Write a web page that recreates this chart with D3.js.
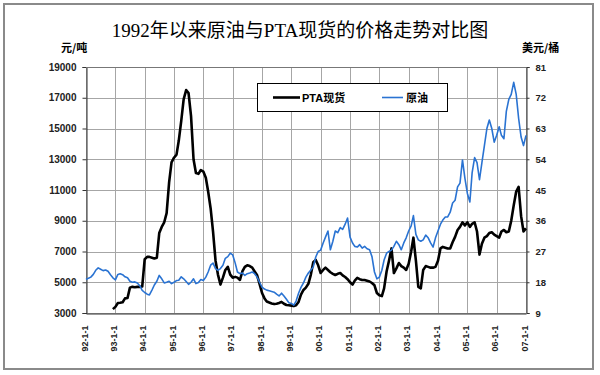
<!DOCTYPE html>
<html>
<head>
<meta charset="utf-8">
<script src="https://cdn.jsdelivr.net/npm/d3@7"></script>
<style>
  body { margin: 0; background: #fff; }
  svg { display: block; }
</style>
</head>
<body>
<script>
// tick labels
const xTickLabels = ["92-1-1", "93-1-1", "94-1-1", "95-1-1", "96-1-1", "97-1-1", "98-1-1", "99-1-1",
    "00-1-1", "01-1-1", "02-1-1", "03-1-1", "04-1-1", "05-1-1", "06-1-1", "07-1-1"];
const leftTicks = [3000, 5000, 7000, 9000, 11000, 13000, 15000, 17000, 19000];
const rightTicks = [9, 18, 27, 36, 45, 54, 63, 72, 81];

// PTA spot, yuan/ton, monthly from 1992-12
const ptaStart = [1992, 11];
const ptaValues = [
    3250,
    3400, 3650, 3670, 3700, 3950, 3980, 4650, 4700, 4680, 4700, 4700, 4720,        // 1993
    6500, 6650, 6650, 6600, 6550, 6600, 8200, 8600, 8900, 9500, 11500, 12800,      // 1994
    13100, 13300, 14200, 15500, 16900, 17500, 17300, 15800, 13000, 12100, 12050, 12300, // 1995
    12200, 11800, 10900, 9800, 8300, 6400, 5500, 4850, 5300, 5800, 6000, 5500,     // 1996
    5300, 5350, 5300, 5150, 5700, 6000, 6100, 6050, 5950, 5700, 5450, 4900,        // 1997
    4300, 3950, 3750, 3680, 3620, 3580, 3600, 3650, 3720, 3600, 3520, 3500,        // 1998
    3480, 3450, 3500, 3720, 4200, 4500, 4650, 4900, 5500, 6300, 6450, 6100,        // 1999
    5600, 5800, 5950, 5800, 5650, 5550, 5470, 5550, 5600, 5450, 5340, 5200,        // 2000
    5000, 4850, 5100, 5280, 5200, 5150, 5150, 5100, 5050, 4950, 4800, 4300,        // 2001
    4150, 4100, 4600, 5700, 6400, 7200, 5600, 5900, 6250, 6050, 5950, 5800,        // 2002
    6200, 7000, 7900, 6400, 4700, 4600, 5800, 6050, 6000, 5950, 5950, 6000,        // 2003
    6400, 7200, 7300, 7250, 7200, 7200, 7600, 7950, 8400, 8600, 8900, 8700,        // 2004
    8900, 8600, 8800, 8900, 8300, 6800, 7500, 7900, 8000, 8200, 8250, 8100,        // 2005
    8000, 7900, 8300, 8400, 8250, 8300, 9000, 10000, 10900, 11200, 9300, 8300,     // 2006
    8500
];

// crude oil, usd/barrel, monthly from 1992-01
const crudeStart = [1992, 0];
const crudeValues = [
    18.8, 19.2, 19.5, 20.3, 21.5, 22.2, 21.8, 21.4, 21.6, 21.2, 20.2, 19.3,  // 1992
    18.7, 20.3, 20.5, 20.2, 19.6, 19.3, 18.3, 18.0, 18.1, 17.8, 17.0, 15.6,  // 1993
    15.0, 14.5, 14.3, 15.7, 17.2, 18.3, 20.0, 19.0, 17.8, 18.0, 18.3, 17.6,  // 1994
    18.0, 18.5, 18.6, 19.6, 19.0, 18.2, 17.4, 18.0, 19.0, 17.6, 17.9, 18.8,  // 1995
    18.5, 19.5, 21.0, 23.0, 23.6, 22.0, 21.5, 22.0, 23.0, 25.0, 25.5, 26.5,  // 1996
    26.0, 23.6, 21.0, 20.5, 20.7, 20.0, 20.5, 20.7, 21.0, 20.5, 19.5, 18.0,  // 1997
    16.6, 16.0, 15.7, 15.5, 15.3, 15.1, 14.5, 14.0, 14.8, 14.0, 13.0, 12.0,  // 1998
    11.8, 11.3, 12.5, 14.8, 16.5, 17.8, 19.5, 20.7, 21.6, 22.5, 25.4, 27.0,  // 1999
    27.4, 29.5, 31.2, 33.0, 27.5, 30.0, 33.0, 32.5, 34.0, 33.5, 35.0, 36.8,  // 2000
    31.2, 29.5, 28.5, 28.3, 29.0, 28.0, 28.5, 27.8, 27.5, 25.5, 21.0, 19.0,  // 2001
    19.5, 21.5, 24.5, 26.5, 27.0, 27.4, 28.5, 30.0, 29.0, 27.5, 29.5, 31.0,  // 2002
    33.0, 34.5, 37.5, 32.0, 30.4, 30.0, 30.4, 31.8, 31.0, 29.5, 28.3, 31.0,  // 2003
    33.0, 35.0, 36.2, 37.1, 37.1, 38.5, 41.2, 42.0, 45.9, 47.0, 53.8, 48.5,  // 2004
    44.0, 41.5, 50.0, 54.5, 53.0, 48.0, 53.0, 58.0, 63.0, 65.5, 63.0, 59.0,  // 2005
    61.0, 63.5, 61.0, 60.0, 68.0, 71.5, 73.0, 76.5, 73.0, 66.0, 60.5, 58.0,  // 2006
    61.0
];

const width = 600, height = 375;
const plot = {left: 86, right: 526, top: 67, bottom: 313};

function toSeries(start, values){
    return values.map((v, i) => ({date: new Date(start[0], start[1] + i, 1), value: v}));
}
const ptaData = toSeries(ptaStart, ptaValues);
const crudeData = toSeries(crudeStart, crudeValues);
const years = xTickLabels.map((d, i) => new Date(1992 + i, 0, 1));

const svg = d3.select("body").append("svg")
    .attr("width", width)
    .attr("height", height);

svg.append("rect")
    .attr("x", 4).attr("y", 4)
    .attr("width", 589).attr("height", 365)
    .attr("fill", "#fff")
    .attr("stroke", "#8a8a8a")
    .attr("stroke-width", 2);

const x = d3.scaleTime()
    .domain([years[0], years[years.length - 1]])
    .range([plot.left, plot.right]);
const yLeft = d3.scaleLinear().domain([3000, 19000]).range([plot.bottom, plot.top]);
const yRight = d3.scaleLinear().domain([9, 81]).range([plot.bottom, plot.top]);

// grid
const grid = svg.append("g").attr("stroke", "#a6a6a6").attr("stroke-width", 1);
grid.selectAll("line.h")
    .data(leftTicks)
    .enter().append("line")
    .attr("class", "h")
    .attr("x1", plot.left).attr("x2", plot.right)
    .attr("y1", d => Math.round(yLeft(d)) + 0.5)
    .attr("y2", d => Math.round(yLeft(d)) + 0.5);
grid.selectAll("line.v")
    .data(years)
    .enter().append("line")
    .attr("class", "v")
    .attr("y1", plot.top).attr("y2", plot.bottom)
    .attr("x1", d => Math.round(x(d)) + 0.5)
    .attr("x2", d => Math.round(x(d)) + 0.5);

const tickFont = (g) => g.selectAll("text")
    .attr("font-family", "'Liberation Sans', Arial, sans-serif")
    .attr("font-weight", "bold")
    .attr("fill", "#222");

// left axis
const leftAxis = svg.append("g")
    .attr("transform", `translate(${plot.left + 0.5},0)`)
    .call(d3.axisLeft(yLeft).tickValues(leftTicks).tickSize(4).tickPadding(6).tickFormat(d3.format("d")));
leftAxis.attr("font-size", 10).call(tickFont);
leftAxis.selectAll("path, line").attr("stroke", "#333");

// right axis
const rightAxis = svg.append("g")
    .attr("transform", `translate(${plot.right + 0.5},0)`)
    .call(d3.axisRight(yRight).tickValues(rightTicks).tickSize(3).tickPadding(6));
rightAxis.attr("font-size", 9.5).call(tickFont);
rightAxis.selectAll("path, line").attr("stroke", "#333");

// bottom axis
const bottomAxis = svg.append("g")
    .attr("transform", `translate(0,${plot.bottom + 0.5})`)
    .call(d3.axisBottom(x).tickValues(years).tickSize(0).tickFormat((d, i) => xTickLabels[i]));
bottomAxis.attr("font-size", 9).call(tickFont);
bottomAxis.select("path").attr("stroke", "#333");
bottomAxis.selectAll("text")
    .attr("transform", "rotate(-90)")
    .attr("text-anchor", "end")
    .attr("x", -12)
    .attr("y", -2)
    .attr("dy", "0.35em");

// top border
svg.append("line")
    .attr("x1", plot.left).attr("x2", plot.right)
    .attr("y1", plot.top + 0.5).attr("y2", plot.top + 0.5)
    .attr("stroke", "#777");

// series
const ptaLine = d3.line().x(d => x(d.date)).y(d => yLeft(d.value));
const crudeLine = d3.line().x(d => x(d.date)).y(d => yRight(d.value));

svg.append("path")
    .datum(ptaData)
    .attr("fill", "none")
    .attr("stroke", "#000")
    .attr("stroke-width", 2.6)
    .attr("stroke-linejoin", "round")
    .attr("d", ptaLine);

svg.append("path")
    .datum(crudeData)
    .attr("fill", "none")
    .attr("stroke", "#2a73d2")
    .attr("stroke-width", 1.6)
    .attr("stroke-linejoin", "round")
    .attr("d", crudeLine);

// legend
const legend = svg.append("g");
legend.append("rect")
    .attr("x", 257.5).attr("y", 83.5)
    .attr("width", 190).attr("height", 28)
    .attr("fill", "#fff")
    .attr("stroke", "#000");
legend.append("line")
    .attr("x1", 273).attr("x2", 300).attr("y1", 97.5).attr("y2", 97.5)
    .attr("stroke", "#000").attr("stroke-width", 2.6);
legend.append("text")
    .attr("x", 302).attr("y", 101.5)
    .attr("font-family", "'Liberation Sans', 'Noto Sans CJK SC', sans-serif")
    .attr("font-size", 11).attr("font-weight", "bold")
    .text("PTA现货");
legend.append("line")
    .attr("x1", 382).attr("x2", 403).attr("y1", 97.5).attr("y2", 97.5)
    .attr("stroke", "#2a73d2").attr("stroke-width", 1.6);
legend.append("text")
    .attr("x", 406).attr("y", 101.5)
    .attr("font-family", "'Noto Sans CJK SC', sans-serif")
    .attr("font-size", 11).attr("font-weight", "bold")
    .text("原油");

// titles
svg.append("text")
    .attr("x", 300).attr("y", 37)
    .attr("text-anchor", "middle")
    .attr("font-family", "'Liberation Serif', 'Noto Sans CJK SC', serif")
    .attr("font-size", 19)
    .text("1992年以来原油与PTA现货的价格走势对比图");

svg.append("text")
    .attr("x", 61).attr("y", 52)
    .attr("font-family", "'Noto Sans CJK SC', sans-serif")
    .attr("font-size", 11).attr("font-weight", "bold")
    .text("元/吨");

svg.append("text")
    .attr("x", 522).attr("y", 52)
    .attr("font-family", "'Noto Sans CJK SC', sans-serif")
    .attr("font-size", 11).attr("font-weight", "bold")
    .text("美元/桶");
</script>
</body>
</html>
